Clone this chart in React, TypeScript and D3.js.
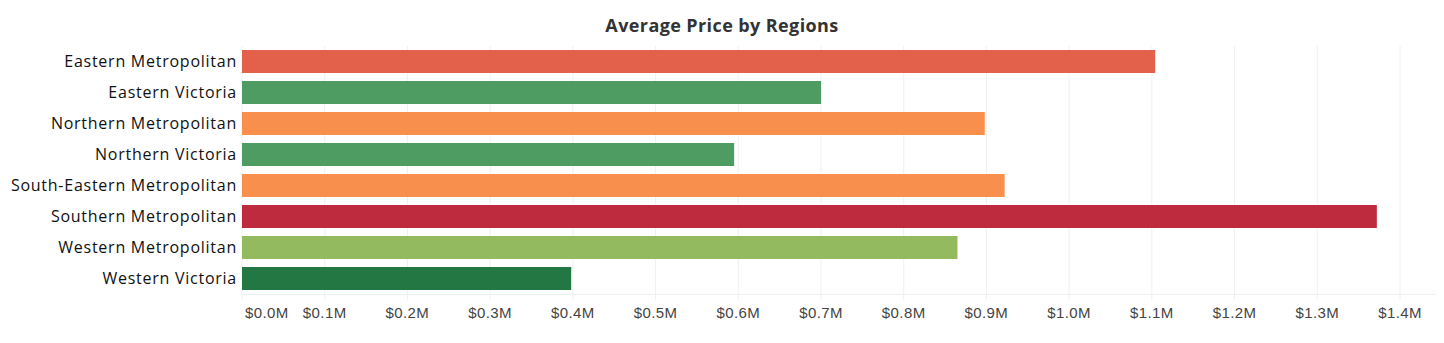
import React from "react";
import * as d3 from "d3";

const title = "Average Price by Regions";
const regions = [
  "Eastern Metropolitan",
  "Eastern Victoria",
  "Northern Metropolitan",
  "Northern Victoria",
  "South-Eastern Metropolitan",
  "Southern Metropolitan",
  "Western Metropolitan",
  "Western Victoria",
];
const avgPrice = [1.104, 0.7, 0.898, 0.595, 0.922, 1.372, 0.865, 0.398];
const barColors = [
  "#E3604A",
  "#4E9C62",
  "#F98F4D",
  "#4E9C62",
  "#F98F4D",
  "#BE2B3E",
  "#94BA60",
  "#237743",
];
const tickValues = [0, 0.1, 0.2, 0.3, 0.4, 0.5, 0.6, 0.7, 0.8, 0.9, 1.0, 1.1, 1.2, 1.3, 1.4];

const W = 1444;
const H = 343;
const margin = { left: 242, right: 8, top: 46, bottom: 49 };

export default function App() {
  const x = d3
    .scaleLinear()
    .domain([0, 1.4])
    .range([margin.left, 1400]);
  const y = d3
    .scaleBand<string>()
    .domain(regions)
    .range([margin.top, H - margin.bottom])
    .paddingInner(0.258)
    .paddingOuter(0.129);
  const plotRight = W - margin.right;
  const fmt = (v: number) => "$" + v.toFixed(1) + "M";

  return (
    <svg
      width={W}
      height={H}
      style={{ position: "absolute", left: 0, top: 0, background: "#fff" }}
      fontFamily="'Open Sans', sans-serif"
    >
      <text
        x={722}
        y={32}
        textAnchor="middle"
        fontSize={18}
        fontWeight="bold"
        letterSpacing={0.4}
        fill="#333"
      >
        {title}
      </text>
      {tickValues.map((t) => (
        <line
          key={"g" + t}
          x1={x(t)}
          x2={x(t)}
          y1={margin.top}
          y2={H - margin.bottom + 6}
          stroke="#f0f0f0"
          strokeWidth={1}
        />
      ))}
      <line
        x1={margin.left}
        x2={plotRight}
        y1={H - margin.bottom + 0.5}
        y2={H - margin.bottom + 0.5}
        stroke="#f0f0f0"
      />
      {regions.map((r, i) => (
        <g key={r}>
          <rect
            x={x(0)}
            y={y(r)}
            width={x(avgPrice[i]) - x(0)}
            height={y.bandwidth()}
            fill={barColors[i]}
          />
          <text
            x={237}
            y={(y(r) as number) + y.bandwidth() / 2}
            dy="0.36em"
            textAnchor="end"
            fontSize={16}
            letterSpacing={0.75}
            fill="#111"
          >
            {r}
          </text>
        </g>
      ))}
      {tickValues.map((t, i) => (
        <text
          key={"t" + t}
          x={i === 0 ? x(t) + 3 : x(t)}
          y={318}
          textAnchor={i === 0 ? "start" : "middle"}
          fontSize={15}
          letterSpacing={0.4}
          fill="#444"
          fontFamily="'Liberation Sans', sans-serif"
        >
          {fmt(t)}
        </text>
      ))}
    </svg>
  );
}
